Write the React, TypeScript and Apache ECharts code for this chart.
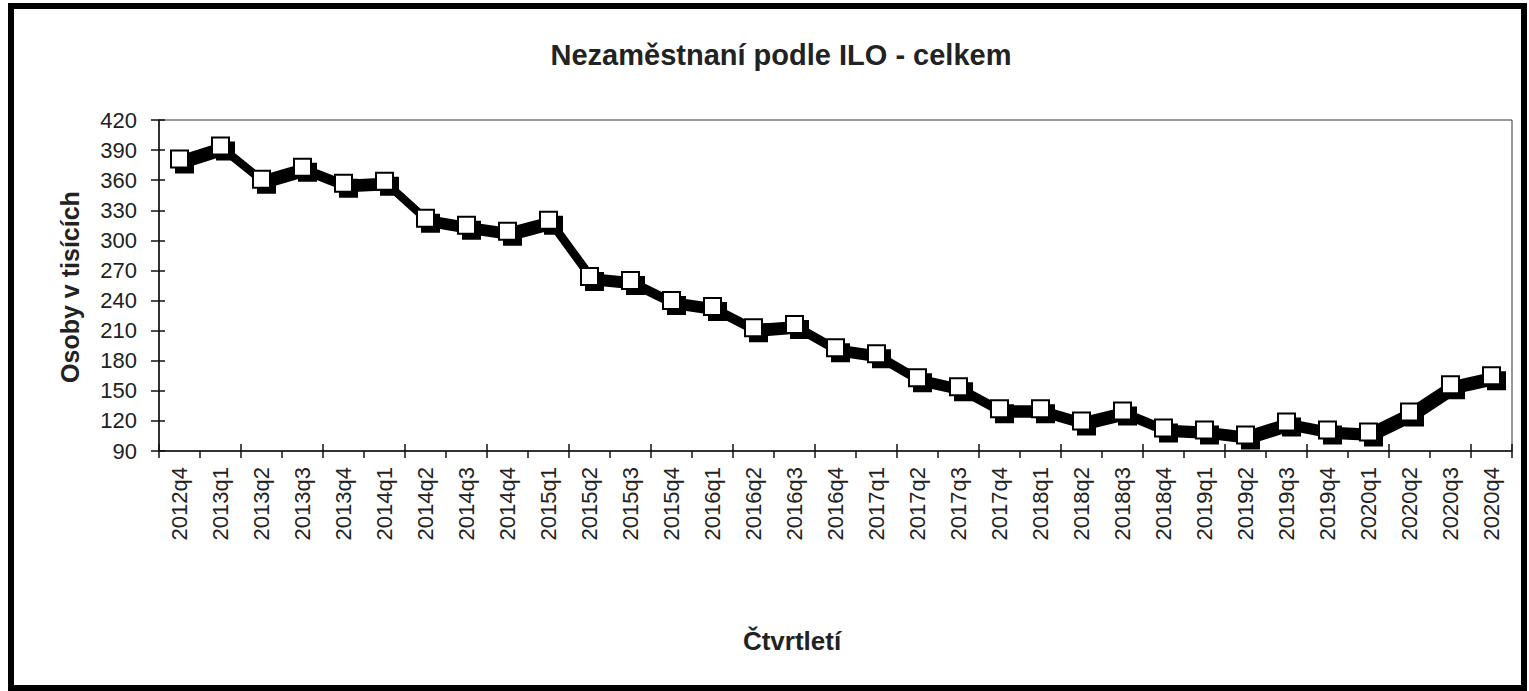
import React, { useEffect, useRef } from "react";
import * as echarts from "echarts";

const categories = [
  "2012q4",
  "2013q1", "2013q2", "2013q3", "2013q4",
  "2014q1", "2014q2", "2014q3", "2014q4",
  "2015q1", "2015q2", "2015q3", "2015q4",
  "2016q1", "2016q2", "2016q3", "2016q4",
  "2017q1", "2017q2", "2017q3", "2017q4",
  "2018q1", "2018q2", "2018q3", "2018q4",
  "2019q1", "2019q2", "2019q3", "2019q4",
  "2020q1", "2020q2", "2020q3", "2020q4",
];

const unemployed = [
  381,
  394, 361, 373, 357,
  359, 322, 315, 309,
  320, 264, 260, 240,
  234, 213, 216, 193,
  187, 163, 154, 132,
  132, 120, 130, 113,
  111, 106, 119, 111,
  109, 129, 156, 165,
];

const titleText = "Nezaměstnaní podle ILO - celkem";
const yAxisTitle = "Osoby v tisících";
const xAxisTitle = "Čtvrtletí";
const yMin = 90;
const yMax = 420;
const yStep = 30;

const FONT = "'Liberation Sans', Arial, sans-serif";

export default function App() {
  const ref = useRef<HTMLDivElement>(null);

  useEffect(() => {
    if (!ref.current) return;
    const chart = echarts.init(ref.current, undefined, { renderer: "svg" });
    const gridMain = { left: 159, top: 120, right: 17, bottom: 240 };
    const sh = 5;
    chart.setOption({
      animation: false,
      backgroundColor: "#ffffff",
      grid: [
        { ...gridMain, show: true, borderColor: "#333", borderWidth: 1, backgroundColor: "#fff", z: 0 },
        { left: gridMain.left + sh, top: gridMain.top + sh, right: gridMain.right - sh, bottom: gridMain.bottom - sh, show: false },
      ],
      xAxis: [
        {
          type: "category",
          gridIndex: 0,
          data: categories,
          boundaryGap: true,
          position: "bottom",
          axisLine: { lineStyle: { color: "#111", width: 1.5 } },
          axisTick: { show: true, length: 7, inside: false, alignWithLabel: false, lineStyle: { color: "#111", width: 1.5 } },
          axisLabel: {
            rotate: 90,
            interval: 0,
            margin: 16,
            color: "#222",
            fontSize: 22,
            fontFamily: FONT,
          },
          splitLine: { show: false },
          z: 5,
        },
        {
          type: "category",
          gridIndex: 0,
          data: categories,
          boundaryGap: true,
          position: "bottom",
          axisLine: { show: false },
          axisTick: { show: true, length: 7, inside: true, lineStyle: { color: "#111", width: 1.5 } },
          axisLabel: { show: false },
          splitLine: { show: false },
          z: 5,
        },
        {
          type: "category",
          gridIndex: 1,
          data: categories,
          boundaryGap: true,
          show: false,
        },
      ],
      yAxis: [
        {
          type: "value",
          gridIndex: 0,
          min: yMin,
          max: yMax,
          interval: yStep,
          position: "left",
          axisLine: { show: true, lineStyle: { color: "#111", width: 1.5 } },
          axisTick: { show: true, length: 8, inside: false, lineStyle: { color: "#111", width: 1.5 } },
          axisLabel: { margin: 22, color: "#222", fontSize: 22, fontFamily: FONT },
          splitLine: { show: false },
          z: 5,
        },
        {
          type: "value",
          gridIndex: 0,
          min: yMin,
          max: yMax,
          interval: yStep,
          position: "left",
          axisLine: { show: false },
          axisTick: { show: true, length: 6, inside: true, lineStyle: { color: "#111", width: 1.5 } },
          axisLabel: { show: false },
          splitLine: { show: false },
          z: 5,
        },
        {
          type: "value",
          gridIndex: 1,
          min: yMin,
          max: yMax,
          interval: yStep,
          show: false,
        },
      ],
      graphic: [
        {
          type: "rect",
          shape: { x: 11, y: 6, width: 1513, height: 682 },
          style: { fill: "none", stroke: "#000", lineWidth: 6 },
          silent: true,
          z: 100,
        },
        {
          type: "text",
          x: 781,
          y: 55,
          style: {
            text: titleText,
            fontFamily: FONT,
            fontWeight: "bold",
            fontSize: 29,
            fill: "#222",
            align: "center",
            verticalAlign: "middle",
          },
        },
        {
          type: "text",
          x: 792,
          y: 641,
          style: {
            text: xAxisTitle,
            fontFamily: FONT,
            fontWeight: "bold",
            fontSize: 26,
            fill: "#222",
            align: "center",
            verticalAlign: "middle",
          },
        },
        {
          type: "text",
          x: 70,
          y: 287,
          rotation: Math.PI / 2,
          style: {
            text: yAxisTitle,
            fontFamily: FONT,
            fontWeight: "bold",
            fontSize: 25,
            fill: "#222",
            align: "center",
            verticalAlign: "middle",
          },
        },
      ],
      series: [
        {
          name: "shadow",
          type: "line",
          xAxisIndex: 2,
          yAxisIndex: 2,
          data: unemployed,
          symbol: "rect",
          symbolSize: 17,
          lineStyle: { color: "#000", width: 8 },
          itemStyle: { color: "#000", borderColor: "#000", borderWidth: 2 },
          z: 2,
          silent: true,
        },
        {
          name: "Nezaměstnaní",
          type: "line",
          xAxisIndex: 0,
          yAxisIndex: 0,
          data: unemployed,
          symbol: "rect",
          symbolSize: 17,
          showAllSymbol: true,
          lineStyle: { color: "#000", width: 7 },
          itemStyle: { color: "#fff", borderColor: "#000", borderWidth: 2 },
          z: 3,
        },
      ],
    });
    return () => chart.dispose();
  }, []);

  return (
    <div
      ref={ref}
      style={{ position: "absolute", left: 0, top: 0, width: 1529, height: 691, background: "#fff" }}
    />
  );
}
